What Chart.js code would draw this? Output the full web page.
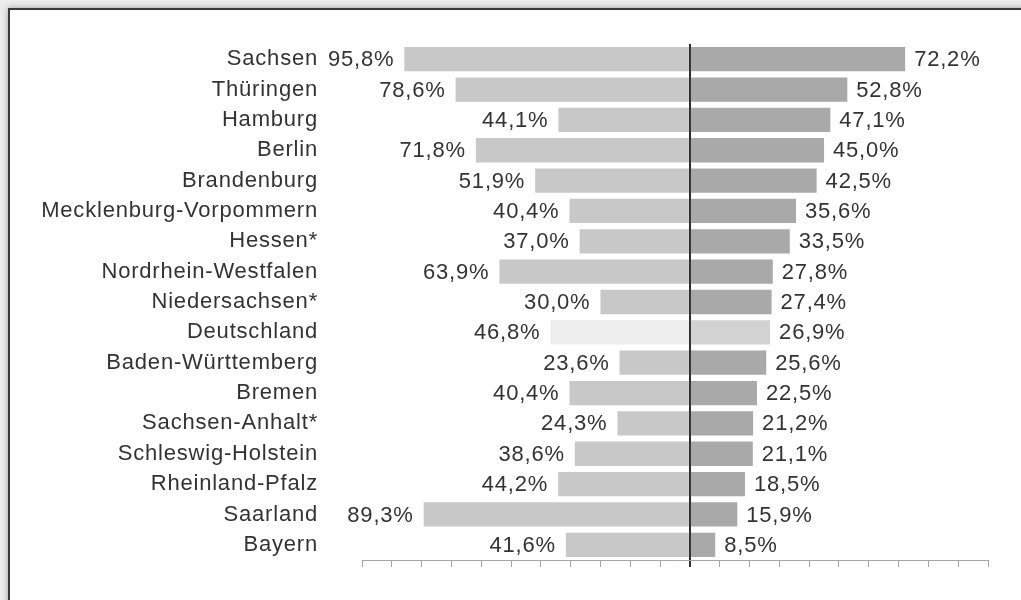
<!DOCTYPE html>
<html lang="de">
<head>
<meta charset="utf-8">
<script src="https://cdn.jsdelivr.net/npm/chart.js@4.4.1/dist/chart.umd.min.js"></script>
<style>
  html, body { margin: 0; padding: 0; width: 1021px; height: 600px; overflow: hidden; background: #ececec; }
  #rahmen { position: absolute; left: 8px; top: 8px; width: 1040px; height: 620px; background: #fff; border: 2px solid #3a3a3a; box-shadow: 0 0 6px rgba(0,0,0,0.35); }
  #wrap { position: absolute; left: 0; top: 0; width: 1021px; height: 600px; }
</style>
</head>
<body>
<div id="rahmen"></div>
<div id="wrap"><canvas id="chart"></canvas></div>
<script>
// Daten
const laender = ['Sachsen', 'Thüringen', 'Hamburg', 'Berlin', 'Brandenburg', 'Mecklenburg-Vorpommern',
  'Hessen*', 'Nordrhein-Westfalen', 'Niedersachsen*', 'Deutschland', 'Baden-Württemberg', 'Bremen',
  'Sachsen-Anhalt*', 'Schleswig-Holstein', 'Rheinland-Pfalz', 'Saarland', 'Bayern'];
const linksWerte = [95.8, 78.6, 44.1, 71.8, 51.9, 40.4, 37.0, 63.9, 30.0, 46.8, 23.6, 40.4, 24.3, 38.6, 44.2, 89.3, 41.6];
const rechtsWerte = [72.2, 52.8, 47.1, 45.0, 42.5, 35.6, 33.5, 27.8, 27.4, 26.9, 25.6, 22.5, 21.2, 21.1, 18.5, 15.9, 8.5];

const textFarbe = '#333333';
const schrift = { family: '"Liberation Sans", Arial, sans-serif', size: 22 };

const fmt = v => v.toFixed(1).replace('.', ',') + '%';

// etwas breitere Schrift wie im Original
const sperrung = {
  id: 'sperrung',
  beforeUpdate(chart) { chart.ctx.letterSpacing = '0.8px'; },
  beforeDraw(chart) { chart.ctx.letterSpacing = '0.8px'; }
};

// Prozentwerte neben den Balken
const wertLabels = {
  id: 'wertLabels',
  afterDatasetsDraw(chart) {
    const ctx = chart.ctx;
    ctx.save();
    ctx.font = schrift.size + 'px ' + schrift.family;
    ctx.fillStyle = textFarbe;
    ctx.textBaseline = 'middle';
    chart.data.datasets.forEach((ds, i) => {
      chart.getDatasetMeta(i).data.forEach((bar, j) => {
        const links = i === 0;
        const wert = links ? linksWerte[j] : rechtsWerte[j];
        ctx.textAlign = links ? 'right' : 'left';
        ctx.fillText(fmt(wert), links ? bar.x - 10 : bar.x + 9, bar.y + 1);
      });
    });
    ctx.restore();
  }
};

new Chart(document.getElementById('chart'), {
  type: 'bar',
  data: {
    labels: laender,
    datasets: [
      {
        label: 'links',
        data: linksWerte.map(v => -v),
        backgroundColor: laender.map(l => l === 'Deutschland' ? '#ededed' : '#c8c8c8'),
        barPercentage: 0.8,
        categoryPercentage: 1
      },
      {
        label: 'rechts',
        data: rechtsWerte,
        backgroundColor: laender.map(l => l === 'Deutschland' ? '#d2d2d2' : '#a9a9a9'),
        barPercentage: 0.8,
        categoryPercentage: 1
      }
    ]
  },
  options: {
    indexAxis: 'y',
    responsive: true,
    maintainAspectRatio: false,
    animation: false,
    devicePixelRatio: 1,
    layout: { padding: { top: 44, right: 33, left: 0, bottom: 0 } },
    plugins: {
      legend: { display: false },
      tooltip: { enabled: false }
    },
    scales: {
      x: {
        type: 'linear',
        min: -110,
        max: 100,
        stacked: true,
        z: 1,
        ticks: { display: false, stepSize: 10 },
        grid: {
          drawOnChartArea: true,
          drawTicks: true,
          tickLength: 7,
          color: c => (c.tick && c.tick.value === 0) ? '#2e2e2e' : 'rgba(0,0,0,0)',
          lineWidth: c => (c.tick && c.tick.value === 0) ? 2 : 1,
          tickColor: c => (c.tick && c.tick.value === 0) ? '#2e2e2e' : '#a5a5a5'
        },
        border: { display: true, color: '#a5a5a5', width: 1 },
        afterFit(scale) {
          scale.height = 40;
          scale.paddingLeft = 0;
          scale.paddingRight = 0;
        }
      },
      y: {
        type: 'category',
        stacked: true,
        grid: { display: false, drawTicks: false },
        border: { display: false },
        ticks: { padding: 44, color: textFarbe, font: schrift },
        afterFit(scale) {
          scale.width = 362;
          scale.paddingTop = 0;
          scale.paddingBottom = 0;
        }
      }
    }
  },
  plugins: [sperrung, wertLabels]
});
</script>
</body>
</html>
